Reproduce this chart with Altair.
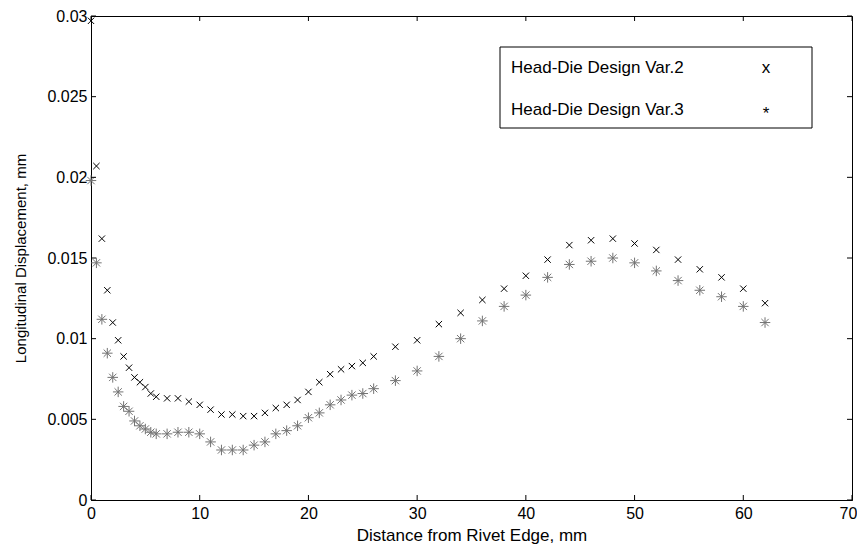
import altair as alt
import pandas as pd

# ---- data ----
x_vals = [0, 0.5, 1, 1.5, 2, 2.5, 3, 3.5, 4, 4.5, 5, 5.5, 6, 7, 8, 9, 10, 11, 12, 13, 14,
          15, 16, 17, 18, 19, 20, 21, 22, 23, 24, 25, 26, 28, 30, 32, 34, 36, 38, 40, 42,
          44, 46, 48, 50, 52, 54, 56, 58, 60, 62]

var2 = [0.0297, 0.0207, 0.0162, 0.0130, 0.0110, 0.0099, 0.0089, 0.0082, 0.0076, 0.0073,
        0.0070, 0.0066, 0.0064, 0.0063, 0.0063, 0.0061, 0.0059, 0.0056, 0.0053, 0.0053,
        0.0052, 0.0052, 0.0054, 0.0057, 0.0059, 0.0062, 0.0067, 0.0073, 0.0078, 0.0081,
        0.0083, 0.0085, 0.0089, 0.0095, 0.0099, 0.0109, 0.0116, 0.0124, 0.0131, 0.0139,
        0.0149, 0.0158, 0.0161, 0.0162, 0.0159, 0.0155, 0.0149, 0.0143, 0.0138, 0.0131,
        0.0122]

var3 = [0.0198, 0.0147, 0.0112, 0.0091, 0.0076, 0.0067, 0.0058, 0.0055, 0.0049, 0.0046,
        0.0044, 0.0042, 0.0041, 0.0041, 0.0042, 0.0042, 0.0041, 0.0036, 0.0031, 0.0031,
        0.0031, 0.0034, 0.0036, 0.0041, 0.0043, 0.0046, 0.0051, 0.0054, 0.0059, 0.0062,
        0.0065, 0.0066, 0.0069, 0.0074, 0.0080, 0.0089, 0.0100, 0.0111, 0.0120, 0.0127,
        0.0138, 0.0146, 0.0148, 0.0150, 0.0147, 0.0142, 0.0136, 0.0130, 0.0126, 0.0120,
        0.0110]

x_ticks = [0, 10, 20, 30, 40, 50, 60, 70]
y_ticks = [0, 0.005, 0.01, 0.015, 0.02, 0.025, 0.03]
legend_labels = ["Head-Die Design Var.2", "Head-Die Design Var.3"]
legend_symbols = ["x", "*"]

# ---- layout ----
W, H = 761, 484
FONT = "Liberation Sans"
TL = 5  # inward tick length

xs = alt.Scale(domain=[0, 70], nice=False, zero=False)
ys = alt.Scale(domain=[0, 0.03], nice=False, zero=False)

df2 = pd.DataFrame({"x": x_vals, "y": var2})
df3 = pd.DataFrame({"x": x_vals, "y": var3})

X_PATH = "M-1,-1L1,1M-1,1L1,-1"
STAR_PATH = "M-1,0L1,0M0,-1L0,1M-0.7,-0.7L0.7,0.7M-0.7,0.7L0.7,-0.7"

x_axis = alt.Axis(values=x_ticks, title="Distance from Rivet Edge, mm", ticks=False,
                  grid=False, labelFlush=False, labelOverlap=False, labelPadding=5,
                  labelFontSize=16, titleFontSize=17, titlePadding=6, format="d",
                  labelOffset={"condition": {"test": "datum.value == 70", "value": -4},
                               "value": 0})
y_axis = alt.Axis(values=y_ticks, title="Longitudinal Displacement, mm", ticks=False,
                  grid=False, labelFlush=False, labelOverlap=False, labelPadding=4,
                  labelFontSize=16, titleFontSize=15, titlePadding=18, format="~g")

p2 = alt.Chart(df2).mark_point(shape=X_PATH, filled=False, color="black",
                               strokeWidth=1, size=40, opacity=1).encode(
    x=alt.X("x:Q", scale=xs, axis=x_axis),
    y=alt.Y("y:Q", scale=ys, axis=y_axis),
)
p3 = alt.Chart(df3).mark_point(shape=STAR_PATH, filled=False, color="#737373",
                               strokeWidth=1, size=110, opacity=1).encode(
    x=alt.X("x:Q"),
    y=alt.Y("y:Q"),
)

xt = pd.DataFrame({"x": x_ticks})
yt = pd.DataFrame({"y": y_ticks})
tick_b = alt.Chart(xt).mark_rule(color="black").encode(
    x="x:Q", y=alt.value(H), y2=alt.value(H - TL))
tick_t = alt.Chart(xt).mark_rule(color="black").encode(
    x="x:Q", y=alt.value(0), y2=alt.value(TL))
tick_l = alt.Chart(yt).mark_rule(color="black").encode(
    y="y:Q", x=alt.value(0), x2=alt.value(TL))
tick_r = alt.Chart(yt).mark_rule(color="black").encode(
    y="y:Q", x=alt.value(W), x2=alt.value(W - TL))

# ---- legend box (MATLAB style: label left, symbol right) ----
LX0, LX1, LY0, LY1 = 409, 721, 31, 112
box = alt.Chart(pd.DataFrame({"k": [0]})).mark_rect(
    fill="white", stroke="black", strokeWidth=1).encode(
    x=alt.value(LX0), x2=alt.value(LX1), y=alt.value(LY0), y2=alt.value(LY1))

leg_layers = []
for i, (lab, sym) in enumerate(zip(legend_labels, legend_symbols)):
    d = pd.DataFrame({"label": [lab], "sym": [sym]})
    yy = 52 + i * 42
    leg_layers.append(alt.Chart(d).mark_text(
        align="left", baseline="middle", font=FONT, fontSize=17, color="black").encode(
        text="label:N", x=alt.value(LX0 + 11), y=alt.value(yy)))
    leg_layers.append(alt.Chart(d).mark_text(
        align="center", baseline="middle", font=FONT, fontSize=17, color="black").encode(
        text="sym:N", x=alt.value(675), y=alt.value(yy if sym == "x" else yy + 4)))

chart = alt.layer(p3, p2, tick_b, tick_t, tick_l, tick_r, box, *leg_layers).properties(
    width=W, height=H,
    autosize=alt.AutoSizeParams(type="none"),
    padding={"left": 83, "top": 8, "right": 5, "bottom": 44},
    background="white",
).configure_view(stroke="black", strokeWidth=1).configure_axis(
    domainColor="black", labelColor="black", titleColor="black",
    labelFont=FONT, titleFont=FONT, titleFontWeight="normal",
)

chart.save("out.html", embed_options={"renderer": "svg", "actions": False})
